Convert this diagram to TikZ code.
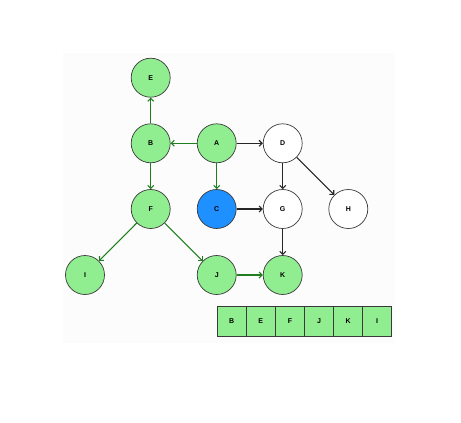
\documentclass[tikz,border=0pt]{standalone}
\usepackage{fontspec}
\setmainfont{Liberation Sans}
\usetikzlibrary{arrows.meta}
\usetikzlibrary{positioning}
\usepackage{xcolor}

\definecolor{visited}{HTML}{90EE90}
\definecolor{current}{HTML}{1E90FF}
\definecolor{treeedge}{HTML}{1F7F1F}
\definecolor{rim}{HTML}{3A3A3A}

\begin{document}
\begin{tikzpicture}[x=1pt,y=-1pt,
    vertex/.style={circle,draw=rim,line width=0.7pt,minimum size=39pt,inner sep=0pt,
      font=\fontsize{7}{8}\selectfont\bfseries},
    seen/.style={vertex,fill=visited},
    fresh/.style={vertex,fill=white},
    cellbox/.style={rectangle,draw=rim,line width=0.7pt,fill=visited,minimum width=29.1pt,
      minimum height=29.3pt,inner sep=0pt,outer sep=0pt,font=\fontsize{7}{8}\selectfont\bfseries},
    tree/.style={treeedge,line width=1.1pt,-{Straight Barb[length=3pt,width=6pt]}},
    plain/.style={black!85,line width=1.1pt,-{Straight Barb[length=3pt,width=6pt]}}]
      \useasboundingbox (0,0) rectangle (461,423);
      % Backdrop
      \fill[black!1] (63,53) rectangle (395,343);

      % Vertices
      \node[seen] (E) at (150.7,77.7) {E};
      \node[seen] (B) at (150.7,143.3) {B};
      \node[seen] (A) at (216.7,143.3) {A};
      \node[fresh] (D) at (282.7,143.3) {D};
      \node[seen] (F) at (150.7,209) {F};
      \node[vertex,fill=current] (C) at (216.7,209) {C};
      \node[fresh] (G) at (282.7,209) {G};
      \node[fresh] (H) at (348.3,209) {H};
      \node[seen] (I) at (85,275) {I};
      \node[seen] (J) at (216.7,275) {J};
      \node[seen] (K) at (282.7,275) {K};

      % Edges
      \draw[tree] (A) -- (B);
      \draw[tree] (A) -- (C);
      \draw[tree] (B) -- (E);
      \draw[tree] (B) -- (F);
      \draw[tree] (F) -- (I);
      \draw[tree] (F) -- (J);
      \draw[tree] (J) -- (K);
      \draw[plain] (A) -- (D);
      \draw[plain] (C) -- (G);
      \draw[plain] (D) -- (G);
      \draw[plain] (D) -- (H);
      \draw[plain] (G) -- (K);

      % Queue
      \foreach \l [count=\i] in {B,E,F,J,K,I}
      {
        \node[cellbox] (q\i) at (202.6+29.1*\i,321.3) {\l};
      }
\end{tikzpicture}
\end{document}
